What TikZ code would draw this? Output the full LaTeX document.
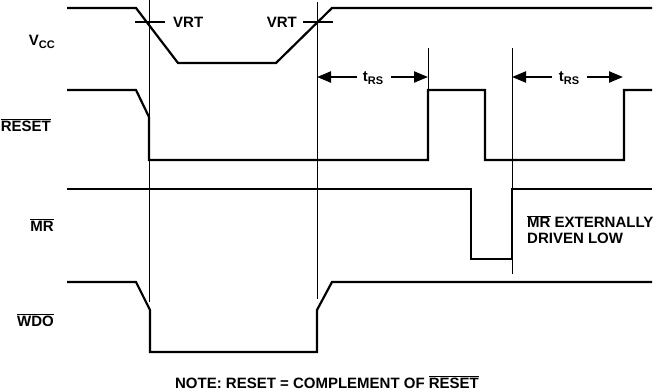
\documentclass[tikz,border=0pt]{standalone}
\usepackage{fontspec}
\setmainfont{Liberation Sans}
\usetikzlibrary{arrows.meta}
\newcommand{\ovl}[1]{$\overline{\hbox{#1}}$}
\begin{document}
\begin{tikzpicture}[x=1pt,y=-1pt,
  sig/.style={line width=2.2pt,line join=miter},
  guide/.style={line width=0.9pt},
  lbl/.style={font=\bfseries\fontsize{15}{17}\selectfont,inner sep=0pt},
  dim/.style={line width=2.2pt,-{Triangle[length=14pt,width=11pt]}}]
\useasboundingbox (0,0) rectangle (667,390);
% guides
\coordinate (g1t) at (149,0);   \coordinate (g1b) at (149,302);
\coordinate (g2t) at (317,2);   \coordinate (g2b) at (317,299);
\coordinate (g3t) at (428,48);  \coordinate (g3b) at (428,90);
\coordinate (g4t) at (512,48);  \coordinate (g4b) at (512,274);
\draw[guide] (g1t) -- (g1b);
\draw[guide] (g2t) -- (g2b);
\draw[guide] (g3t) -- (g3b);
\draw[guide] (g4t) -- (g4b);
% VCC
\coordinate (v0) at (67,8);
\coordinate (v1) at (136,8);
\coordinate (v2) at (178,63);
\coordinate (v3) at (276,63);
\coordinate (v4) at (332,8);
\coordinate (v5) at (652,8);
\draw[sig] (v0) -- (v1) -- (v2) -- (v3) -- (v4) -- (v5);
\coordinate (c1a) at (135,22); \coordinate (c1b) at (165,22);
\coordinate (c2a) at (303,22); \coordinate (c2b) at (333,22);
\draw[sig] (c1a) -- (c1b);
\draw[sig] (c2a) -- (c2b);
\node[lbl,anchor=west] (vrt1) at (173,22) {VRT};
\node[lbl,anchor=east] (vrt2) at (297,22) {VRT};
% RESET
\coordinate (r0) at (67,90);
\coordinate (r1) at (136,90);
\coordinate (r2) at (149,117);
\coordinate (r3) at (149,160);
\coordinate (r4) at (428,160);
\coordinate (r5) at (428,90);
\coordinate (r6) at (485,90);
\coordinate (r7) at (485,160);
\coordinate (r8) at (624,160);
\coordinate (r9) at (624,90);
\coordinate (r10) at (652,90);
\draw[sig] (r0) -- (r1) -- (r2) -- (r3) -- (r4) -- (r5) -- (r6) -- (r7) -- (r8) -- (r9) -- (r10);
% tRS
\node[lbl] (trs1) at (373,78) {t\raisebox{-0.4ex}{\fontsize{11}{13}\selectfont RS}};
\node[lbl] (trs2) at (569,78) {t\raisebox{-0.4ex}{\fontsize{11}{13}\selectfont RS}};
\coordinate (a1s) at (357,77); \coordinate (a1e) at (317,77);
\coordinate (a2s) at (391,77); \coordinate (a2e) at (428,77);
\coordinate (a3s) at (552,77); \coordinate (a3e) at (512,77);
\coordinate (a4s) at (587,77); \coordinate (a4e) at (623,77);
\draw[dim] (a1s) -- (a1e);
\draw[dim] (a2s) -- (a2e);
\draw[dim] (a3s) -- (a3e);
\draw[dim] (a4s) -- (a4e);
% MR
\coordinate (m0) at (67,189);
\coordinate (m1) at (471,189);
\coordinate (m2) at (471,259);
\coordinate (m3) at (512,259);
\coordinate (m4) at (512,189);
\coordinate (m5) at (652,189);
\draw[sig] (m0) -- (m1) -- (m2) -- (m3) -- (m4) -- (m5);
\node[lbl,anchor=north west,align=left] (ext) at (527,215) {\ovl{MR} EXTERNALLY\\[-1pt]DRIVEN LOW};
% WDO
\coordinate (w0) at (67,282);
\coordinate (w1) at (136,282);
\coordinate (w2) at (150,310);
\coordinate (w3) at (150,352);
\coordinate (w4) at (317,352);
\coordinate (w5) at (317,310);
\coordinate (w6) at (332,282);
\coordinate (w7) at (652,282);
\draw[sig] (w0) -- (w1) -- (w2) -- (w3) -- (w4) -- (w5) -- (w6) -- (w7);
% labels
\node[lbl,anchor=east] (vcc) at (55,42) {V\raisebox{-0.45ex}{\fontsize{11}{13}\selectfont CC}};
\node[lbl,anchor=east] (rst) at (51,125) {\ovl{RESET}};
\node[lbl,anchor=east] (mr) at (54,225) {\ovl{MR}};
\node[lbl,anchor=east] (wdo) at (54,320) {\ovl{WDO}};
\node[lbl] (note) at (327,382) {NOTE: RESET = COMPLEMENT OF \ovl{RESET}};
\end{tikzpicture}
\end{document}
